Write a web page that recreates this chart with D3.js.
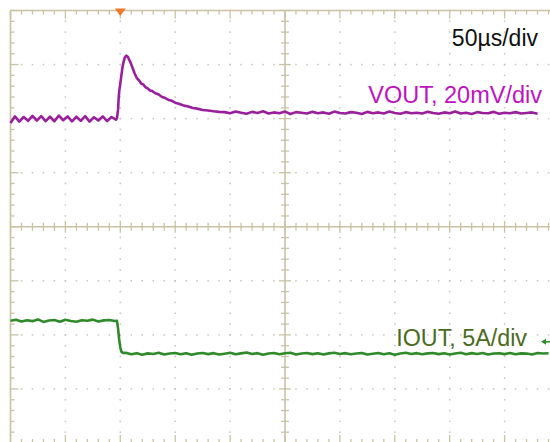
<!DOCTYPE html>
<html><head><meta charset="utf-8">
<script src="https://cdn.jsdelivr.net/npm/d3@7"></script>
<style>html,body{margin:0;padding:0;background:#fff;overflow:hidden}svg{display:block}</style>
</head><body><svg id="c" width="550" height="442"></svg>
<script>
// ---- data ----
const timeDomain = [-100, 400];      // µs, 50 µs/div, 10 div
const divDomain = [-4, 4];           // vertical divisions
const voutScale = 20;                // mV/div
const ioutScale = 5;                 // A/div
const voutPos = 2.0;                 // channel position (div)
const ioutPos = -2.35;
const labels = ["50µs/div", "VOUT, 20mV/div", "IOUT, 5A/div"];

// VOUT deviation (mV) vs time (µs)
const voutT = [-100,-96,-92,-88,-84,-80,-76,-72,-68,-64,-60,-56,-52,-48,-44,-40,-36,-32,-28,-24,-20,-16,-12,-8,-4,
  -3,-2,-1.5,-1,0,1,2,3,4,5.5,7,9,11,13,15,17,19,21,23,25,27,29,32,35,38,41,44,47,50,54,58,62,66,70,75,80,85,90,
  95,100,105,110,115,120,125,130,135,140,145,150,155,160,165,170,175,180,185,190,195,200,205,210,215,220,225,230,
  235,240,245,250,255,260,265,270,275,280,285,290,295,300,305,310,315,320,325,330,335,340,345,350,355,360,365,370,
  375,380,385,390];
const voutV = [-1.6,0.8,-1.1,0.6,-0.8,1.0,-0.7,0.9,-0.9,0.7,-1.0,1.1,-0.6,0.8,-1.0,0.7,-0.8,0.9,-1.1,0.5,-0.7,0.8,-0.9,0.6,-0.4,
  0.2,3.5,7.5,10.0,13.0,16.0,19.0,21.0,22.5,23.3,22.8,21.0,19.0,16.8,15.0,14.2,13.0,12.6,11.6,11.2,10.4,10.2,9.4,8.9,8.0,7.6,6.9,6.6,5.9,5.4,4.8,4.5,3.9,3.7,3.2,3.0,2.7,2.5,
  2.4,2.0,2.6,2.2,1.8,2.5,2.1,2.7,1.9,2.3,2.0,2.6,1.7,2.4,2.2,1.9,2.5,2.0,2.3,1.8,2.6,2.1,1.9,2.4,2.2,1.7,2.5,2.0,
  2.3,1.9,2.6,2.1,1.8,2.4,2.0,2.2,1.9,2.5,2.1,1.8,2.3,2.0,2.6,1.9,2.2,1.7,2.4,2.1,2.0,2.5,1.8,2.2,2.0,2.4,
  1.9,2.1,2.3,1.8];

// IOUT deviation (A) vs time (µs)
const ioutT = [-100,-95,-90,-85,-80,-75,-70,-65,-60,-55,-50,-45,-40,-35,-30,-25,-20,-15,-10,-5,
  -3,-2,-1,0,1,2.5,5,10,15,20,25,30,35,40,45,50,55,60,65,70,75,80,85,90,95,100,105,110,115,120,125,130,135,140,
  145,150,155,160,165,170,175,180,185,190,195,200,205,210,215,220,225,230,235,240,245,250,255,260,265,270,275,280,
  285,290,295,300,305,310,315,320,325,330,335,340,345,350,355,360,365,370,375,380,385,390];
const ioutA = [3.05,3.15,2.98,3.10,3.02,3.18,2.95,3.08,3.12,2.97,3.14,3.03,2.96,3.11,3.06,3.16,2.99,3.09,3.13,3.04,
  3.05,2.30,1.30,0.60,0.20,0.08,0.10,-0.05,0.06,-0.08,0.04,-0.02,0.09,-0.06,0.03,0.07,-0.04,0.05,-0.09,0.02,0.08,-0.03,0.06,-0.07,0.01,0.09,-0.05,0.04,0.12,-0.02,0.06,-0.08,0.03,0.07,
  -0.04,0.05,0.10,-0.06,0.02,0.08,-0.03,0.05,-0.07,0.04,0.09,-0.02,0.06,-0.05,0.03,0.08,-0.06,0.01,0.07,-0.04,0.05,-0.08,0.03,0.09,-0.02,0.06,-0.05,0.04,
  0.08,-0.03,0.05,-0.07,0.02,0.09,-0.04,0.06,-0.02,0.07,-0.06,0.03,0.05,-0.03,0.08,-0.05,0.04,0.02,-0.06,0.07,0.03,0.05];

// ---- drawing ----
const svg = d3.select("#c");
const W = 550, H = 442;
const xDiv = d3.scaleLinear().domain([0, 10]).range([10.5, 559.5]);
const xT = d3.scaleLinear().domain(timeDomain).range([10.5, 559.5]);
const yDiv = d3.scaleLinear().domain(divDomain).range([443, 10.5]);

const gridCol = "#c9c3a2", dotCol = "#c4c4c4";
const g = svg.append("g");

// dotted grid
const minorX = d3.range(0, 50.001, 1).map(d => d / 5);
const minorY = d3.range(0, 40.001, 1).map(d => d / 5 - 4);
[1,2,3,4,6,7,8,9].forEach(d => {
  g.selectAll(null).data(minorY).join("rect")
    .attr("x", xDiv(d) - 0.75).attr("y", v => yDiv(v) - 0.75)
    .attr("width", 1.5).attr("height", 1.5).attr("fill", dotCol);
});
[-3,-2,-1,1,2,3].forEach(d => {
  g.selectAll(null).data(minorX).join("rect")
    .attr("x", v => xDiv(v) - 0.75).attr("y", yDiv(d) - 0.75)
    .attr("width", 1.5).attr("height", 1.5).attr("fill", dotCol);
});

// border lines
g.append("line").attr("x1", xDiv(0)).attr("x2", xDiv(10)).attr("y1", yDiv(4)).attr("y2", yDiv(4))
  .attr("stroke", gridCol).attr("stroke-width", 1.6);
g.append("line").attr("x1", xDiv(0)).attr("x2", xDiv(10)).attr("y1", yDiv(-4)).attr("y2", yDiv(-4))
  .attr("stroke", gridCol).attr("stroke-width", 1.6);
g.append("line").attr("x1", xDiv(0)).attr("x2", xDiv(0)).attr("y1", yDiv(4)).attr("y2", yDiv(-4))
  .attr("stroke", gridCol).attr("stroke-width", 1.6);
// border ticks
const isMajor = v => Math.abs(v - Math.round(v)) < 1e-6;
g.selectAll(null).data(minorX).join("line")
  .attr("x1", v => xDiv(v)).attr("x2", v => xDiv(v))
  .attr("y1", yDiv(4)).attr("y2", v => yDiv(4) + (isMajor(v) ? 8 : 4))
  .attr("stroke", gridCol).attr("stroke-width", 1.3);
g.selectAll(null).data(minorX).join("line")
  .attr("x1", v => xDiv(v)).attr("x2", v => xDiv(v))
  .attr("y1", yDiv(-4)).attr("y2", v => yDiv(-4) - (isMajor(v) ? 8 : 4))
  .attr("stroke", gridCol).attr("stroke-width", 1.3);
g.selectAll(null).data(minorY).join("line")
  .attr("y1", v => yDiv(v)).attr("y2", v => yDiv(v))
  .attr("x1", xDiv(0)).attr("x2", v => xDiv(0) + (isMajor(v) ? 8 : 4))
  .attr("stroke", gridCol).attr("stroke-width", 1.3);

// center crosshair
g.append("line").attr("x1", xDiv(0)).attr("x2", xDiv(10)).attr("y1", yDiv(0)).attr("y2", yDiv(0))
  .attr("stroke", gridCol).attr("stroke-width", 1.6);
g.append("line").attr("x1", xDiv(5)).attr("x2", xDiv(5)).attr("y1", yDiv(4)).attr("y2", yDiv(-4))
  .attr("stroke", gridCol).attr("stroke-width", 1.6);
g.selectAll(null).data(minorX).join("line")
  .attr("x1", v => xDiv(v)).attr("x2", v => xDiv(v))
  .attr("y1", v => yDiv(0) - (isMajor(v) ? 6 : 4)).attr("y2", v => yDiv(0) + (isMajor(v) ? 6 : 4))
  .attr("stroke", gridCol).attr("stroke-width", 1.3);
g.selectAll(null).data(minorY).join("line")
  .attr("y1", v => yDiv(v)).attr("y2", v => yDiv(v))
  .attr("x1", v => xDiv(5) - (isMajor(v) ? 6 : 4)).attr("x2", v => xDiv(5) + (isMajor(v) ? 6 : 4))
  .attr("stroke", gridCol).attr("stroke-width", 1.3);

// trigger marker
const tx = xT(0);
svg.append("path").attr("d", `M${tx-5.5},${yDiv(4)-2} L${tx+5.5},${yDiv(4)-2} L${tx},${yDiv(4)+5.5} Z`)
  .attr("fill", "#f07a2a");

// traces
const lineV = d3.line().x((d, i) => xT(voutT[i])).y(d => yDiv(d / voutScale + voutPos));
svg.append("path").attr("d", lineV(voutV)).attr("fill", "none")
  .attr("stroke", "#9a1f9c").attr("stroke-width", 2.6).attr("stroke-linejoin", "round");
const lineI = d3.line().x((d, i) => xT(ioutT[i])).y(d => yDiv(d / ioutScale + ioutPos));
svg.append("path").attr("d", lineI(ioutA)).attr("fill", "none")
  .attr("stroke", "#2f8a2a").attr("stroke-width", 2.6).attr("stroke-linejoin", "round");

// IOUT marker on right
const my = yDiv(ioutPos) - 12;
svg.append("path").attr("d", `M541,${my} L546,${my-3} L546,${my+3} Z`).attr("fill", "#2f8a2a");
svg.append("line").attr("x1", 545).attr("x2", 550).attr("y1", my).attr("y2", my)
  .attr("stroke", "#2f8a2a").attr("stroke-width", 1.5);

// labels
const font = "'Liberation Sans', Arial, sans-serif";
svg.append("text").attr("x", 538).attr("y", 45.5).attr("text-anchor", "end")
  .attr("font-family", font).attr("font-size", 23).attr("fill", "#111").text(labels[0]);
svg.append("text").attr("x", 542).attr("y", 102.5).attr("text-anchor", "end")
  .attr("font-family", font).attr("font-size", 23.5).attr("fill", "#bf13c0").text(labels[1]);
svg.append("text").attr("x", 527).attr("y", 345.5).attr("text-anchor", "end")
  .attr("font-family", font).attr("font-size", 23.3).attr("fill", "#4b6b22").text(labels[2]);
</script></body></html>
